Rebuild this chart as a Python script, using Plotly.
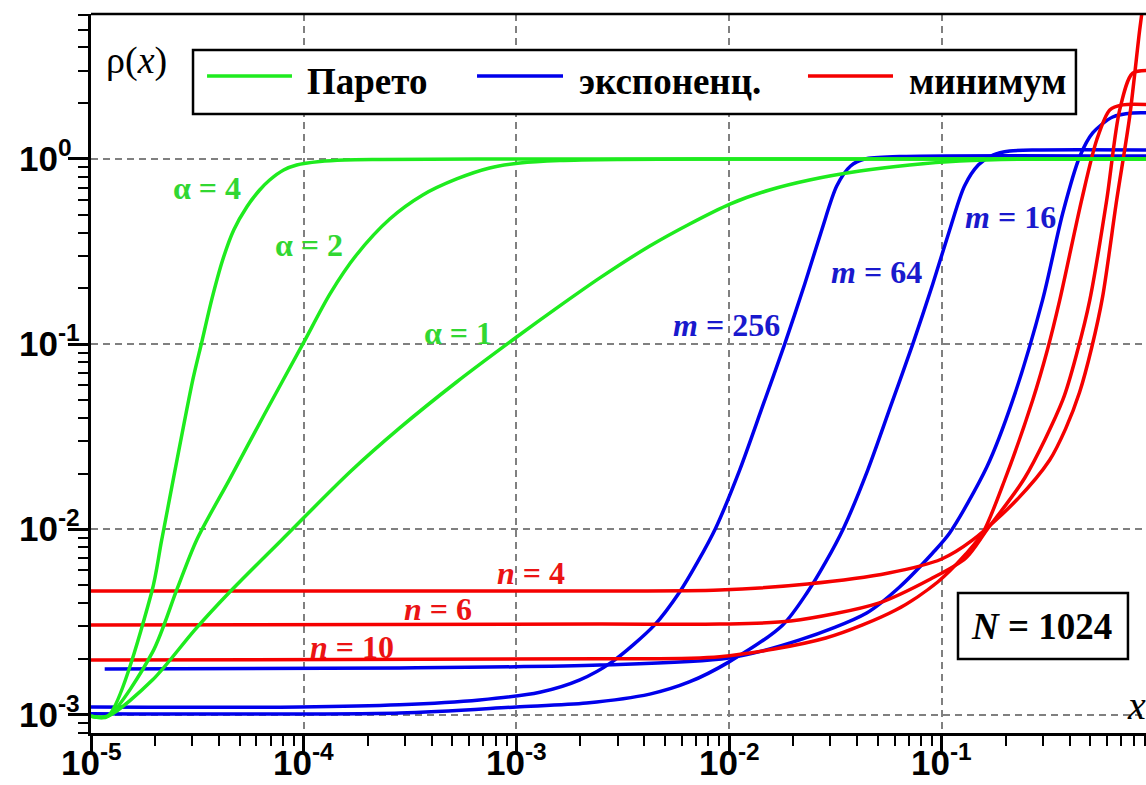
import math
import plotly.graph_objects as go

# ---- Pareto densities (green) ----
par_a4_x = [1.0e-5, 1.2e-5, 1.93e-5, 2.15e-5, 3.01e-5, 3.31e-5, 3.69e-5, 4.16e-5, 4.69e-5, 5.40e-5, 6.21e-5,
            6.92e-5, 8.05e-5, 9.27e-5, 1.19e-4, 1.56e-4, 2.28e-4, 1.0e-3, 1.0]
par_a4_y = [9.8e-4, 9.8e-4, 4.59e-3, 8.77e-3, 0.0641, 0.1015, 0.173, 0.285, 0.414, 0.551, 0.680,
            0.770, 0.872, 0.928, 0.969, 0.988, 0.994, 1.0, 1.0]

par_a2_x = [1.0e-5, 1.2e-5, 1.95e-5, 2.53e-5, 3.14e-5, 4.49e-5, 6.55e-5, 9.9e-5, 1.33e-4, 1.77e-4, 2.54e-4,
            3.63e-4, 5.24e-4, 7.49e-4, 1.04e-3, 1.60e-3, 3.06e-3, 1.0e-2, 1.0]
par_a2_y = [9.8e-4, 9.8e-4, 2.18e-3, 4.71e-3, 8.77e-3, 0.0187, 0.0420, 0.100, 0.187, 0.303, 0.474,
            0.639, 0.780, 0.894, 0.951, 0.981, 0.994, 1.0, 1.0]

par_a1_x = [1.0e-5, 1.2e-5, 1.95e-5, 3.07e-5, 4.49e-5, 7.88e-5, 1.65e-4, 2.83e-4, 5.24e-4, 1.0e-3, 1.60e-3,
            2.47e-3, 4.24e-3, 6.53e-3, 1.01e-2, 1.55e-2, 2.39e-2, 4.12e-2, 7.07e-2, 0.1215, 0.2326, 1.0]
par_a1_y = [9.8e-4, 9.8e-4, 1.54e-3, 2.86e-3, 4.59e-3, 8.77e-3, 0.0204, 0.0353, 0.0625, 0.109, 0.161,
            0.228, 0.339, 0.446, 0.571, 0.680, 0.770, 0.861, 0.928, 0.975, 0.998, 1.0]

# ---- exponential densities (blue) ----
exp_m256_x = [1.0e-5, 9.6e-5, 2.83e-4, 6.72e-4, 1.29e-3, 1.99e-3, 2.81e-3, 4.47e-3, 5.86e-3, 7.12e-3, 8.66e-3,
              1.122e-2, 1.44e-2, 1.827e-2, 2.27e-2, 2.73e-2, 3.21e-2, 3.73e-2, 4.34e-2, 6.34e-2, 1.0]
exp_m256_y = [1.10e-3, 1.10e-3, 1.13e-3, 1.20e-3, 1.32e-3, 1.54e-3, 1.92e-3, 3.05e-3, 4.59e-3, 6.67e-3, 1.018e-2,
              0.0209, 0.0464, 0.100, 0.2114, 0.414, 0.715, 0.917, 1.0, 1.032, 1.038]

exp_m64_x = [1.0e-5, 2.83e-4, 1.0e-3, 2.14e-3, 4.24e-3, 6.5e-3, 9.96e-3, 1.79e-2, 2.34e-2, 2.85e-2, 3.46e-2,
             4.49e-2, 5.76e-2, 7.31e-2, 9.08e-2, 0.109, 0.128, 0.149, 0.174, 0.209, 0.289, 1.0]
exp_m64_y = [1.01e-3, 1.02e-3, 1.10e-3, 1.155e-3, 1.29e-3, 1.50e-3, 1.92e-3, 3.05e-3, 4.59e-3, 6.67e-3, 1.018e-2,
             0.0209, 0.0464, 0.100, 0.2114, 0.414, 0.715, 0.930, 1.050, 1.105, 1.118, 1.118]

exp_m16_x = [1.16e-5, 2.83e-4, 2.47e-3, 9.96e-3, 2.15e-2, 4.44e-2, 6.34e-2, 9.07e-2, 0.109, 0.163, 0.216,
             0.298, 0.371, 0.445, 0.513, 0.637, 0.791, 1.0]
exp_m16_y = [1.76e-3, 1.785e-3, 1.85e-3, 2.02e-3, 2.53e-3, 3.54e-3, 4.89e-3, 7.46e-3, 9.56e-3, 0.0217, 0.050,
             0.173, 0.511, 1.025, 1.382, 1.686, 1.771, 1.771]

# ---- minimum densities (red) ----
min_n4_x = [1.0e-5, 2.47e-3, 9.04e-3, 2.34e-2, 5.63e-2, 0.1, 0.140, 0.225, 0.322, 0.3828, 0.445, 0.5075, 0.571,
            0.665, 0.765, 0.853, 0.9]
min_n4_y = [4.65e-3, 4.65e-3, 4.71e-3, 5.07e-3, 5.81e-3, 6.92e-3, 8.77e-3, 0.0144, 0.0237, 0.035, 0.055, 0.096,
            0.180, 0.600, 1.686, 4.97, 8.0]

min_n6_x = [1.0e-5, 2.47e-3, 9.04e-3, 1.95e-2, 5.05e-2, 8.87e-2, 0.130, 0.163, 0.2456, 0.371, 0.436, 0.497,
            0.597, 0.687, 0.791, 1.0]
min_n6_y = [3.05e-3, 3.08e-3, 3.08e-3, 3.20e-3, 4.00e-3, 5.40e-3, 7.01e-3, 9.93e-3, 0.01895, 0.050, 0.0930,
            0.173, 0.600, 1.84, 2.91, 3.0]

min_n10_x = [1.0e-5, 2.47e-3, 9.04e-3, 2.85e-2, 6.08e-2, 9.58e-2, 0.130, 0.156, 0.1978, 0.268, 0.314, 0.359,
             0.455, 0.536, 0.617, 0.710, 1.0]
min_n10_y = [1.97e-3, 2.00e-3, 2.05e-3, 2.59e-3, 3.67e-3, 5.20e-3, 7.37e-3, 9.56e-3, 0.01848, 0.050, 0.093, 0.173,
             0.600, 1.27, 1.84, 1.96, 1.96]

x_ticks = [1e-5, 1e-4, 1e-3, 1e-2, 1e-1]
x_tick_text = ["-5", "-4", "-3", "-2", "-1"]
y_ticks = [1e-3, 1e-2, 1e-1, 1e0]
y_tick_text = ["-3", "-2", "-1", "0"]

GREEN = "rgb(30,235,30)"
BLUE = "rgb(0,0,235)"
RED = "rgb(245,0,0)"
GREEN_TXT = "rgb(50,215,50)"
BLUE_TXT = "rgb(25,25,205)"
RED_TXT = "rgb(235,20,20)"

fig = go.Figure()


def add_curve(xs, ys, color):
    fig.add_trace(go.Scatter(x=xs, y=ys, mode="lines", showlegend=False, hoverinfo="skip",
                             line=dict(color=color, width=3.5, shape="spline", smoothing=0.8)))


for xs, ys in [(exp_m256_x, exp_m256_y), (exp_m64_x, exp_m64_y), (exp_m16_x, exp_m16_y)]:
    add_curve(xs, ys, BLUE)
for xs, ys in [(min_n4_x, min_n4_y), (min_n6_x, min_n6_y), (min_n10_x, min_n10_y)]:
    add_curve(xs, ys, RED)
for xs, ys in [(par_a4_x, par_a4_y), (par_a2_x, par_a2_y), (par_a1_x, par_a1_y)]:
    add_curve(xs, ys, GREEN)


def minor_vals(lo, hi):
    vals = []
    for d in range(lo, hi):
        for k in range(2, 10):
            vals.append(k * 10.0 ** d)
    return vals


tick_font = dict(family="Liberation Sans", size=35, color="black")
grid = dict(showgrid=True, gridcolor="rgb(128,128,128)", gridwidth=2, griddash="7px,5px")

fig.update_xaxes(type="log", range=[-5, -0.0393], showline=True, linecolor="black", linewidth=2.5,
                 ticks="outside", ticklen=17, tickwidth=2.5, tickcolor="black", automargin=False,
                 tickvals=x_ticks, showticklabels=False, zeroline=False,
                 minor=dict(tickvals=minor_vals(-5, 0), ticks="outside", ticklen=10, tickwidth=2,
                            tickcolor="black", showgrid=False),
                 **grid)
fig.update_yaxes(type="log", range=[-3.0994, 0.7829], showline=True, linecolor="black", linewidth=2.5,
                 ticks="outside", ticklen=20, tickwidth=2.5, tickcolor="black", automargin=False,
                 tickvals=y_ticks, showticklabels=False, zeroline=False,
                 minor=dict(tickvals=minor_vals(-4, 1), ticks="outside", ticklen=10, tickwidth=2,
                            tickcolor="black", showgrid=False),
                 **grid)

shapes = [
    # top frame line
    dict(type="line", xref="paper", yref="paper", x0=0, x1=1, y0=1, y1=1,
         line=dict(color="black", width=2.5), layer="above"),
    # legend frame
    dict(type="rect", xref="paper", yref="paper", x0=0.0967, x1=0.9336, y0=0.8609, y1=0.9499,
         fillcolor="white", line=dict(color="black", width=2.5), layer="above"),
    # N box
    dict(type="rect", xref="paper", yref="paper", x0=0.8218, x1=0.9829, y0=0.1029, y1=0.1947,
         fillcolor="white", line=dict(color="black", width=2.5), layer="above"),
]
legend_items = [("Парето", GREEN, 0.1100, 0.1905, 0.2028),
                ("экспоненц.", BLUE, 0.3659, 0.4474, 0.4607),
                ("минимум", RED, 0.6796, 0.7602, 0.7735)]
annotations = []
for name, col, lx0, lx1, tx in legend_items:
    shapes.append(dict(type="line", xref="paper", yref="paper", x0=lx0, x1=lx1, y0=0.9138, y1=0.9138,
                       line=dict(color=col, width=3.5), layer="above"))
    annotations.append(dict(xref="paper", yref="paper", x=tx, y=0.9068, xanchor="left", yanchor="middle",
                            text="<b>%s</b>" % name, showarrow=False,
                            font=dict(family="Liberation Serif", size=37, color="black")))

# decade labels: y ones left aligned, x ones centred under their ticks
for v, t in zip(y_ticks, y_tick_text):
    annotations.append(dict(xref="paper", yref="y", x=-0.0701, y=math.log10(v), xanchor="left",
                            yanchor="middle", yshift=3, text="<b>10<sup>%s</sup></b>" % t, showarrow=False,
                            font=tick_font))
for v, t in zip(x_ticks, x_tick_text):
    annotations.append(dict(xref="x", yref="paper", x=math.log10(v), y=-0.0466, xanchor="center",
                            yanchor="middle", yshift=7, text="<b>10<sup>%s</sup></b>" % t, showarrow=False,
                            font=tick_font))

annotations.append(dict(xref="paper", yref="paper", x=0.9014, y=0.1488, xanchor="center", yanchor="middle",
                        text="<b><i>N</i> = 1024</b>", showarrow=False,
                        font=dict(family="Liberation Serif", size=37, color="black")))
annotations.append(dict(xref="paper", yref="paper", x=0.0436, y=0.936, xanchor="center", yanchor="middle",
                        text="ρ(<i>x</i>)", showarrow=False,
                        font=dict(family="Liberation Serif", size=38, color="black")))
annotations.append(dict(xref="paper", yref="paper", x=0.9800, y=0.0376, xanchor="left", yanchor="middle",
                        text="<i>x</i>", showarrow=False,
                        font=dict(family="Liberation Serif", size=40, color="black")))

# curve labels: (text, x value, y value, colour)
curve_labels = [
    ("α = 4", 3.5e-5, 0.70, GREEN_TXT),
    ("α = 2", 1.06e-4, 0.343, GREEN_TXT),
    ("α = 1", 5.3e-4, 0.115, GREEN_TXT),
    ("<i>m</i> = 256", 9.75e-3, 0.127, BLUE_TXT),
    ("<i>m</i> = 64", 0.0494, 0.245, BLUE_TXT),
    ("<i>m</i> = 16", 0.211, 0.486, BLUE_TXT),
    ("<i>n</i> = 4", 1.17e-3, 5.8e-3, RED_TXT),
    ("<i>n</i> = 6", 4.26e-4, 3.72e-3, RED_TXT),
    ("<i>n</i> = 10", 1.68e-4, 2.32e-3, RED_TXT),
]
for txt, xv, yv, col in curve_labels:
    annotations.append(dict(x=math.log10(xv), y=math.log10(yv), xref="x", yref="y",
                            text="<b>%s</b>" % txt, showarrow=False, xanchor="center", yanchor="middle",
                            font=dict(family="Liberation Serif", size=32, color=col)))

fig.update_layout(width=1146, height=785, margin=dict(l=91, r=0, t=14, b=52, autoexpand=False),
                  paper_bgcolor="white", plot_bgcolor="white",
                  shapes=shapes, annotations=annotations, showlegend=False)

fig.write_html("out.html")
